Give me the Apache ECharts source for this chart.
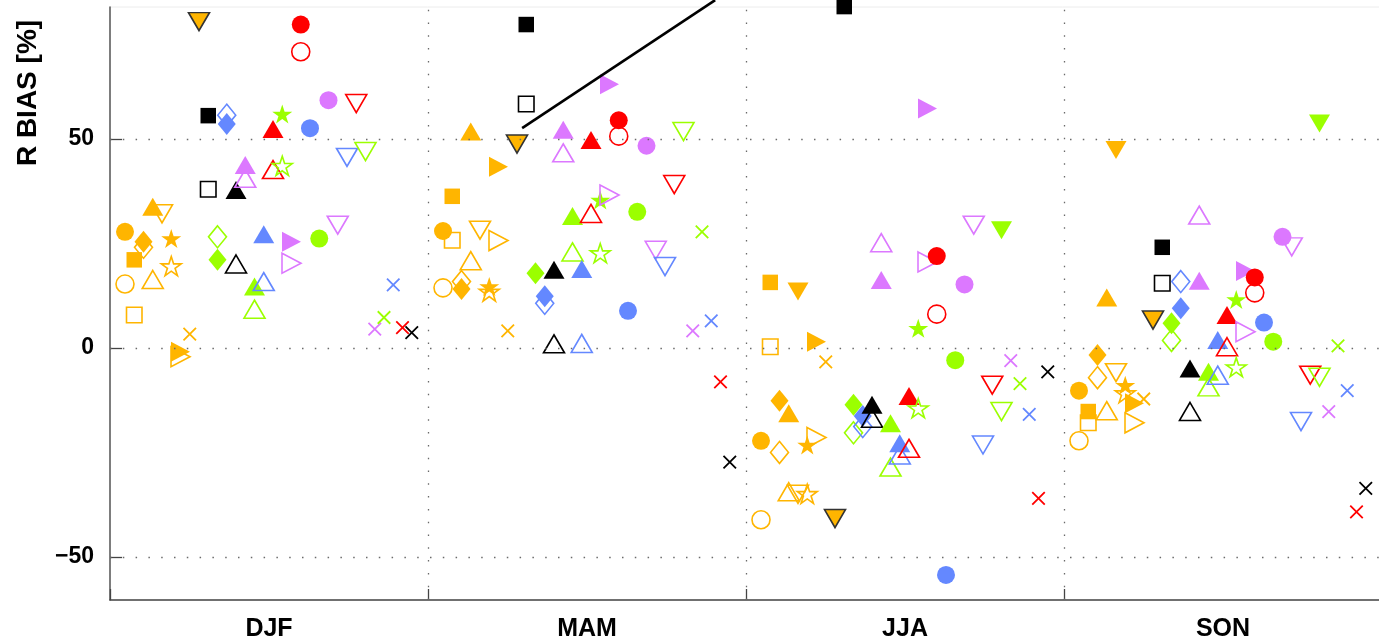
<!DOCTYPE html>
<html><head><meta charset="utf-8">
<script src="https://cdn.jsdelivr.net/npm/echarts@6/dist/echarts.min.js"></script>
<style>html,body{margin:0;padding:0;background:#fff}#c{width:1379px;height:643px}</style>
</head><body><div id="c"></div>
<script>
// ---------------- DATA ----------------
const seasons = ['DJF', 'MAM', 'JJA', 'SON'];
const yTicks = [-50, 0, 50];
// values per season: [DJF, MAM, JJA, SON]  (F = filled marker, O = open marker)
const orangeCircleF  = [27.8, 28.0, -22.2, -10.2];
const orangeCircleO  = [15.3, 14.4, -41.1, -22.2];
const orangeSquareF  = [21.1, 36.3, 15.7, -15.2];
const orangeSquareO  = [7.9, 25.8, 0.3, -17.9];
const orangeDiamondF = [25.4, 14.1, -12.6, -1.7];
const orangeDiamondO = [24.1, 15.9, -25.0, -7.1];
const orangeUpF      = [33.8, 51.8, -15.6, 12.1];
const orangeUpO      = [16.4, 20.9, -34.4, -15.0];
const orangeDownF    = [null, null, 13.5, 47.4];
const orangeDownO    = [32.1, 28.2, -35.0, -5.9];
const orangeStarF    = [26.2, 14.7, -23.2, -8.9];
const orangeStarO    = [19.6, 13.5, -34.9, -10.8];
const orangeRightF   = [-0.9, 43.4, 1.5, -13.2];
const orangeRightO   = [-2.1, 25.7, -21.4, -17.9];
const orangeX        = [3.3, 4.1, -3.3, -12.2];
const orangeDownEdgeF= [78.1, 48.8, -40.8, 6.7];
const blackSquareF   = [55.6, 77.4, 81.7, 24.1];
const blackSquareO   = [38.0, 58.4, null, 15.5];
const greenDiamondF  = [21.1, 17.9, -13.6, 5.9];
const greenDiamondO  = [26.6, null, -20.3, 1.8];
const blueDiamondF   = [53.6, 12.4, -16.3, 9.5];
const blueDiamondO   = [55.7, 10.7, -18.8, 15.9];
const blackUpF       = [37.8, 18.7, -13.6, -4.9];
const blackUpO       = [20.1, 1.0, -16.8, -15.2];
const purpleUpF      = [43.8, 52.2, 16.3, 16.1];
const purpleUpO      = [40.6, 46.7, 25.2, 31.8];
const greenUpF       = [14.7, 31.6, -18.0, -5.7];
const greenUpO       = [9.3, 23.0, -28.5, -9.3];
const blueUpF        = [27.2, 18.9, -22.8, 1.9];
const blueUpO        = [15.9, 1.1, -25.6, -6.5];
const redUpF         = [52.4, 49.8, -11.5, 7.9];
const redUpO         = [42.7, 32.2, -24.0, 0.3];
const greenStarF     = [56.0, 35.4, 4.7, 11.6];
const greenStarO     = [43.6, 22.7, -14.4, -4.6];
const purpleRightF   = [25.4, 63.1, 57.3, 18.4];
const purpleRightO   = [20.3, 36.6, 20.6, 3.9];
const redCircleF     = [77.4, 54.5, 22.0, 16.9];
const redCircleO     = [70.9, 50.7, 8.1, 13.2];
const blueCircleF    = [52.6, 8.9, -54.3, 6.1];
const greenCircleF   = [26.2, 32.6, -2.9, 1.5];
const purpleCircleF  = [59.3, 48.4, 15.2, 26.6];
const purpleDownO    = [29.4, 23.4, 29.4, 24.2];
const blueDownO      = [45.6, 19.5, -23.2, -17.6];
const redDownO       = [58.5, 39.1, -8.9, -6.5];
const greenDownF     = [null, null, 28.2, 53.7];
const greenDownO     = [47.0, 51.8, -15.2, -7.0];
const purpleX        = [4.5, 4.1, -3.0, -15.2];
const greenX         = [7.3, 27.8, -8.5, 0.5];
const blueX          = [15.1, 6.5, -15.9, -10.2];
const redX           = [4.9, -8.1, -36.0, -39.2];
const blackX         = [3.7, -27.3, -5.7, -33.6];
// annotation line (x in season units, y in %)
const annotX = [1.296, 1.903];
const annotY = [52.6, 83.25];

// ---------------- STYLE ----------------
const COL = {orange:'#FFB500', black:'#000000', green:'#9BFF00', blue:'#6488FF', purple:'#DC78FF', red:'#FF0000'};
const STAR = 'path://M0,-1L0.2245,-0.309L0.951,-0.309L0.3633,0.118L0.588,0.809L0,0.382L-0.588,0.809L-0.3633,0.118L-0.951,-0.309L-0.2245,-0.309Z';
const SHAPE = {
  circle:  {symbol:'circle', size:18},
  square:  {symbol:'rect', size:15.5},
  diamond: {symbol:'diamond', size:[18,22]},
  up:      {symbol:'triangle', size:[21,18]},
  down:    {symbol:'path://M0,0L2,0L1,1.72Z', size:[21,18]},
  star:    {symbol:STAR, size:[20,19]},
  right:   {symbol:'path://M0,0L1.72,1L0,2Z', size:[19,20]},
  x:       {symbol:'path://M0,0L1,1M1,0L0,1', size:[12.5,12.5]}
};
// model order defines the slot within each season
const models = [
  {c:'orange', s:'circle', F:orangeCircleF, O:orangeCircleO},
  {c:'orange', s:'square', F:orangeSquareF, O:orangeSquareO},
  {c:'orange', s:'diamond', F:orangeDiamondF, O:orangeDiamondO},
  {c:'orange', s:'up', F:orangeUpF, O:orangeUpO},
  {c:'orange', s:'down', F:orangeDownF, O:orangeDownO},
  {c:'orange', s:'star', F:orangeStarF, O:orangeStarO},
  {c:'orange', s:'right', F:orangeRightF, O:orangeRightO},
  {c:'orange', s:'x', O:orangeX},
  {c:'orange', s:'down', F:orangeDownEdgeF, edge:true},
  {c:'black', s:'square', F:blackSquareF, O:blackSquareO},
  {c:'green', s:'diamond', F:greenDiamondF, O:greenDiamondO},
  {c:'blue', s:'diamond', F:blueDiamondF, O:blueDiamondO},
  {c:'black', s:'up', F:blackUpF, O:blackUpO},
  {c:'purple', s:'up', F:purpleUpF, O:purpleUpO},
  {c:'green', s:'up', F:greenUpF, O:greenUpO},
  {c:'blue', s:'up', F:blueUpF, O:blueUpO},
  {c:'red', s:'up', F:redUpF, O:redUpO},
  {c:'green', s:'star', F:greenStarF, O:greenStarO},
  {c:'purple', s:'right', F:purpleRightF, O:purpleRightO},
  {c:'red', s:'circle', F:redCircleF, O:redCircleO},
  {c:'blue', s:'circle', F:blueCircleF},
  {c:'green', s:'circle', F:greenCircleF},
  {c:'purple', s:'circle', F:purpleCircleF},
  {c:'purple', s:'down', O:purpleDownO},
  {c:'blue', s:'down', O:blueDownO},
  {c:'red', s:'down', O:redDownO},
  {c:'green', s:'down', F:greenDownF, O:greenDownO},
  {c:'purple', s:'x', O:purpleX},
  {c:'green', s:'x', O:greenX},
  {c:'blue', s:'x', O:blueX},
  {c:'red', s:'x', O:redX},
  {c:'black', s:'x', O:blackX}
];

function slot(k){ return (15 + 9.25 * k) / 318; }
function pts(vals, k){
  const out = [];
  vals.forEach((v, s) => { if (v != null) out.push([s + slot(k), v]); });
  return out;
}

const FONT = '"Liberation Sans", Arial, Helvetica, sans-serif';

const series = [];
series.push({
  type:'scatter', data:[], silent:true, z:1,
  markLine:{silent:true, symbol:'none', label:{show:false}, animation:false,
    lineStyle:{type:[1.5, 11.3], color:'#6a6a6a', width:1.3},
    data: yTicks.map(v => ({yAxis:v})).concat([1,2,3].map(v => ({xAxis:v})))}
});
models.forEach((m, k) => {
  const sh = SHAPE[m.s];
  const col = COL[m.c];
  if (m.O) {
    series.push({type:'scatter', z:2, silent:true, clip:false, symbol:sh.symbol, symbolSize:sh.size,
      data:pts(m.O, k),
      itemStyle:{color:'rgba(0,0,0,0)', borderColor:col, borderWidth: m.s === 'x' ? 1.8 : 1.6, opacity:1}});
  }
  if (m.F) {
    series.push({type:'scatter', z:2, silent:true, clip:false, symbol:sh.symbol, symbolSize:sh.size,
      data:pts(m.F, k),
      itemStyle: m.edge ? {color:col, borderColor:'#333', borderWidth:1.6, opacity:1} : {color:col, opacity:1}});
  }
});
series.push({type:'line', z:3, silent:true, clip:false, symbol:'none',
  data: annotX.map((x, i) => [x, annotY[i]]),
  lineStyle:{color:'#000', width:2.6}});

const chart = echarts.init(document.getElementById('c'), null, {renderer:'canvas'});
chart.setOption({
  animation:false,
  backgroundColor:'#fff',
  textStyle:{fontFamily:FONT},
  grid:{left:110, top:7, width:1272, height:593, outerBoundsMode:'none', containLabel:false,
        show:true, borderColor:'#ececec', borderWidth:1, backgroundColor:'transparent'},
  xAxis:[
    {type:'value', min:0, max:4, interval:1,
     axisLine:{show:true, onZero:false, lineStyle:{color:'#444', width:1.5}},
     axisTick:{show:true, inside:true, length:11, lineStyle:{color:'#444', width:1.3}},
     axisLabel:{show:false}, splitLine:{show:false}},
    {type:'category', data:seasons, position:'bottom', boundaryGap:true,
     axisLine:{show:false, onZero:false}, axisTick:{show:false}, splitLine:{show:false},
     axisLabel:{margin:17, color:'#000', fontFamily:FONT, fontWeight:'bold', fontSize:25}}
  ],
  yAxis:{type:'value', min:-60.3, max:81.6,
    axisLine:{show:true, onZero:false, lineStyle:{color:'#555', width:1.5}},
    axisTick:{show:true, inside:true, length:12, customValues:yTicks, lineStyle:{color:'#444', width:1.3}},
    axisLabel:{customValues:yTicks, margin:16, color:'#000', fontFamily:FONT, fontWeight:'bold', fontSize:23,
      formatter: v => String(v).replace('-', '\u2212')},
    splitLine:{show:false}},
  graphic:[{type:'text', x:28, y:93, rotation:Math.PI/2, silent:true,
    style:{text:'R BIAS [%]', fill:'#000', font:'bold 28px ' + FONT, textAlign:'center', textVerticalAlign:'middle'}}],
  series: series
});
</script></body></html>
